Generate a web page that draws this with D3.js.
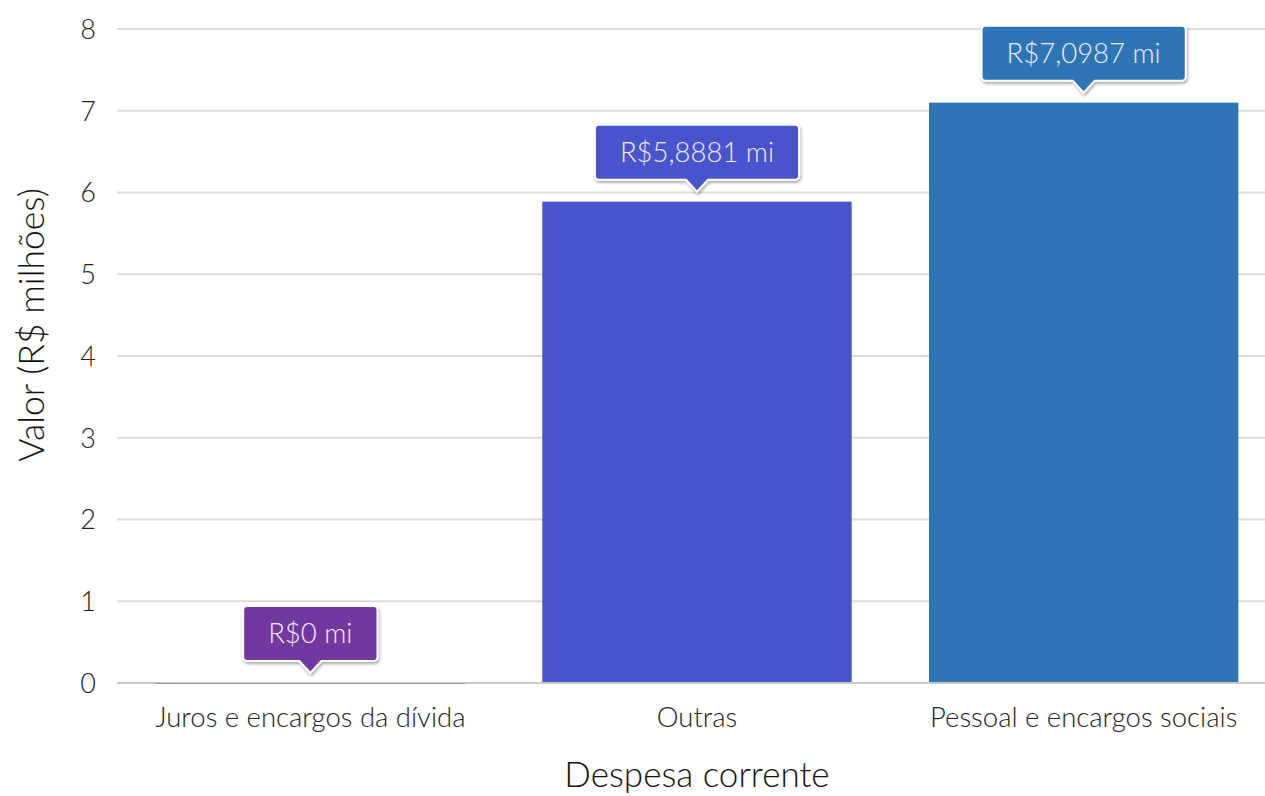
<!DOCTYPE html>
<html><head><meta charset="utf-8">
<script src="https://cdnjs.cloudflare.com/ajax/libs/d3/7.8.5/d3.min.js"></script>
<style>
html,body{margin:0;padding:0;background:#fff;}
svg{display:block;font-family:Lato,"Open Sans",sans-serif;}
</style></head>
<body><svg id="c" width="1265" height="796"></svg>
<script>
const categories = ["Juros e encargos da dívida", "Outras", "Pessoal e encargos sociais"];
const values = [0, 5.8881, 7.0987];
const labels = ["R$0 mi", "R$5,8881 mi", "R$7,0987 mi"];
const colors = ["#7339a0", "#4953cb", "#2f75b6"];
const yTicks = [0,1,2,3,4,5,6,7,8];
const yTitle = "Valor (R$ milhões)";
const xTitle = "Despesa corrente";

(function(){
const svg = d3.select("#c");
const mLeft = 117, mRight = 1277, mTop = 29, mBottom = 683;
const x = d3.scaleBand().domain(categories).range([mLeft, mRight]).paddingInner(0.2).paddingOuter(0.1);
const y = d3.scaleLinear().domain([0, 8]).range([mBottom, mTop]);

const defs = svg.append("defs");
const f = defs.append("filter").attr("id","sh").attr("x","-20%").attr("y","-20%").attr("width","140%").attr("height","160%");
f.append("feDropShadow").attr("dx",1).attr("dy",2).attr("stdDeviation",1.5).attr("flood-color","#000").attr("flood-opacity",0.35);

// grid
svg.append("g").selectAll("line").data(yTicks.filter(d=>d>0)).join("line")
  .attr("x1", mLeft).attr("x2", 1265).attr("y1", d=>y(d)).attr("y2", d=>y(d))
  .attr("stroke", "#dcdcdc").attr("stroke-width", 2);

// y axis labels
const ya = svg.append("g").attr("transform", `translate(${mLeft},0)`)
  .call(d3.axisLeft(y).tickValues(yTicks).tickSize(0).tickPadding(21));
ya.select(".domain").remove();
ya.selectAll("text").attr("font-family","Lato").attr("font-weight",300).attr("font-size",27).attr("fill","#222").attr("dy","0.35em");

// bars
svg.append("g").selectAll("rect").data(values).join("rect")
  .attr("x", (d,i)=>x(categories[i])).attr("width", x.bandwidth())
  .attr("y", d=>y(d)).attr("height", d=>mBottom - y(d))
  .attr("fill", (d,i)=>colors[i]);

// zero line
svg.append("line").attr("x1", mLeft).attr("x2", 1265).attr("y1", mBottom).attr("y2", mBottom)
  .attr("stroke", "#c8c8c8").attr("stroke-width", 2);
svg.append("g").selectAll("line").data(values).join("line")
  .attr("x1",(d,i)=>x(categories[i])).attr("x2",(d,i)=>x(categories[i])+x.bandwidth())
  .attr("y1",d=>y(d)+0.5).attr("y2",d=>y(d)+0.5)
  .attr("stroke",(d,i)=>d===0?colors[i]:"none").attr("stroke-opacity",0.35).attr("stroke-width",1);

// x axis labels
const xa = svg.append("g").attr("transform", `translate(0,${mBottom})`)
  .call(d3.axisBottom(x).tickSize(0).tickPadding(24));
xa.select(".domain").remove();
xa.selectAll("text").attr("font-family","Lato").attr("font-weight",300).attr("font-size",27.5).attr("fill","#222");

// titles
svg.append("text").attr("x", 697).attr("y", 787).attr("text-anchor","middle")
  .attr("font-family","Lato").attr("font-weight",300).attr("font-size",35).attr("fill","#111").text(xTitle);
svg.append("text").attr("transform","translate(44,325) rotate(-90)").attr("text-anchor","middle")
  .attr("font-family","Lato").attr("font-weight",300).attr("font-size",35.5).attr("fill","#111").text(yTitle);

// tooltips
const tg = svg.append("g");
values.forEach((v,i)=>{
  const cx = x(categories[i]) + x.bandwidth()/2;
  const tip = y(v) - 10;
  const bh = 55, ph = 12;
  const g = tg.append("g");
  const t = g.append("text").attr("x", cx).attr("y", tip - ph - bh/2).attr("dy","0.35em")
    .attr("text-anchor","middle").attr("font-family","Lato").attr("font-weight",300)
    .attr("font-size",27.5).attr("fill","#eef").text(labels[i]);
  const w = t.node().getComputedTextLength() + 50;
  const bx = cx - w/2, by = tip - ph - bh, r = 4;
  const p = d3.path();
  p.moveTo(bx + r, by);
  p.lineTo(bx + w - r, by); p.arcTo(bx + w, by, bx + w, by + r, r);
  p.lineTo(bx + w, by + bh - r); p.arcTo(bx + w, by + bh, bx + w - r, by + bh, r);
  p.lineTo(cx + 11, by + bh); p.lineTo(cx, tip); p.lineTo(cx - 11, by + bh);
  p.lineTo(bx + r, by + bh); p.arcTo(bx, by + bh, bx, by + bh - r, r);
  p.lineTo(bx, by + r); p.arcTo(bx, by, bx + r, by, r);
  p.closePath();
  g.insert("path","text").attr("d", p.toString()).attr("fill", colors[i])
    .attr("stroke","#fff").attr("stroke-width",2).attr("filter","url(#sh)");
});
})();
</script></body></html>
